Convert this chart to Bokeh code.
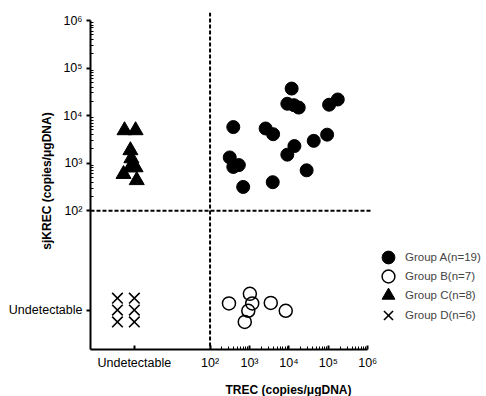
import numpy as np
from bokeh.plotting import figure
from bokeh.models import FixedTicker, Span, Legend, LegendItem, Range1d
from bokeh.embed import file_html
from bokeh.resources import INLINE

# ---------------- data ----------------
# Group A: TREC and sjKREC both detectable (copies/ugDNA)
a_trec = [11750, 9120, 13490, 17780, 104700, 173800, 389, 2570, 3980, 42660,
          93330, 13800, 9120, 316, 389, 537, 28180, 692, 3890]
a_sjkrec = [37150, 17780, 16600, 14790, 16980, 21880, 5750, 5370, 4070, 2950,
            3980, 2290, 1510, 1320, 832, 912, 708, 316, 398]
# Group B: TREC detectable, sjKREC undetectable (placed in the "Undetectable" band)
b_trec = [302, 1023, 1175, 933, 759, 3467, 8318]
b_sjkrec_band = [1.12, 1.78, 1.12, 0.785, 0.457, 1.15, 0.785]
# Group C: TREC undetectable (band), sjKREC detectable
c_trec_band = [0.676, 1.29, 0.955, 1.01, 0.955, 1.29, 0.638, 1.38]
c_sjkrec = [4900, 4900, 1860, 1260, 813, 813, 589, 437]
# Group D: both undetectable
d_trec_band = [0.447, 0.447, 0.447, 1.20, 1.20, 1.20]
d_sjkrec_band = [1.445, 0.813, 0.457, 1.445, 0.813, 0.457]

legend_labels = ["Group A(n=19)", "Group B(n=7)", "Group C(n=8)", "Group D(n=6)"]

major_ticks = [1e2, 1e3, 1e4, 1e5, 1e6]
major_labels = ["10\u00b2", "10\u00b3", "10\u2074", "10\u2075", "10\u2076"]
undet_x = 1.2
undet_y = 0.81
undet_label = "Undetectable"
cutoff = 100
minor_ticks = [k * 10 ** e for e in range(2, 6) for k in range(2, 10)]

FONT = "Liberation Sans"

x_lo = 10 ** -1.033      # left end of the TREC axis ("undetectable" band start)
x_axis_hi = 1e6
x_line_hi = 10 ** 6.12   # right end of the horizontal cutoff line
x_view_hi = 10 ** 9.013  # room on the right for the legend

p = figure(frame_width=396, frame_height=337, x_axis_type="log", y_axis_type="log",
           x_range=Range1d(x_lo, x_view_hi),
           y_range=Range1d(10 ** -0.92, 10 ** 6.17),
           output_backend="svg", toolbar_location=None,
           min_border_left=90, min_border_right=0, min_border_top=12,
           min_border_bottom=40)
p.outline_line_color = None
p.xgrid.visible = False
p.ygrid.visible = False
p.background_fill_color = "white"

# axes
xt = FixedTicker(ticks=[undet_x] + major_ticks, minor_ticks=minor_ticks)
yt = FixedTicker(ticks=[undet_y] + major_ticks, minor_ticks=minor_ticks)
p.xaxis.ticker = xt
p.yaxis.ticker = yt
ov_x = {undet_x: undet_label}
ov_y = {undet_y: undet_label}
for t, l in zip(major_ticks, major_labels):
    ov_x[t] = l
    ov_y[t] = l
p.xaxis.major_label_overrides = ov_x
p.yaxis.major_label_overrides = ov_y
p.xaxis.bounds = (x_lo, x_axis_hi)
p.yaxis.bounds = (10 ** -0.92, 1e6)

for ax in (p.xaxis[0], p.yaxis[0]):
    ax.axis_line_width = 2
    ax.axis_line_color = "black"
    ax.major_tick_line_width = 2
    ax.minor_tick_line_width = 1
    ax.major_label_text_font = FONT
    ax.major_label_text_font_size = "12.5px"
    ax.major_label_text_color = "black"
    ax.axis_label_text_font = FONT
    ax.axis_label_text_font_size = "12px"
    ax.axis_label_text_font_style = "bold"
    ax.axis_label_text_color = "black"

p.xaxis.major_tick_in = 4
p.xaxis.major_tick_out = 0
p.xaxis.minor_tick_in = 3
p.xaxis.minor_tick_out = 0
p.xaxis.major_label_standoff = 6
p.xaxis.axis_label = "TREC (copies/\u03bcgDNA)"
p.xaxis.axis_label_standoff = 10

p.yaxis.major_tick_in = 0
p.yaxis.major_tick_out = 4
p.yaxis.minor_tick_in = 3
p.yaxis.minor_tick_out = 0
p.yaxis.major_label_standoff = 4
p.yaxis.axis_label = "sjKREC (copies/\u03bcgDNA)"
p.yaxis.axis_label_standoff = -48

# cutoff lines
p.add_layout(Span(location=cutoff, dimension="height", line_color="black",
                  line_width=2, line_dash="4 2"))
p.line([x_lo, x_line_hi], [cutoff, cutoff], line_color="black",
       line_width=2, line_dash="4 2")

# points
ra = p.scatter(a_trec, a_sjkrec, marker="circle", size=13, color="black")
rb = p.scatter(b_trec, b_sjkrec_band, marker="circle", size=13,
               fill_color=None, line_color="black", line_width=1.5)
rc = p.scatter(c_trec_band, c_sjkrec, marker="triangle", size=15, color="black")
rd = p.scatter(d_trec_band, d_sjkrec_band, marker="x", size=15,
               line_color="black", line_width=1.6)

# one legend per row so that big legend markers can sit on a tight row pitch
row_offsets = [76, 57, 38, 18]
for lab, r, yoff in zip(legend_labels, [ra, rb, rc, rd], row_offsets):
    lg = Legend(items=[LegendItem(label=lab, renderers=[r])],
                location=(282, yoff), border_line_color=None,
                background_fill_alpha=0, label_text_font=FONT,
                label_text_font_size="11.5px", glyph_width=32, glyph_height=32,
                spacing=0, padding=2, label_standoff=1, margin=0)
    p.add_layout(lg, "center")

open("out.html", "w").write(file_html(p, INLINE))
